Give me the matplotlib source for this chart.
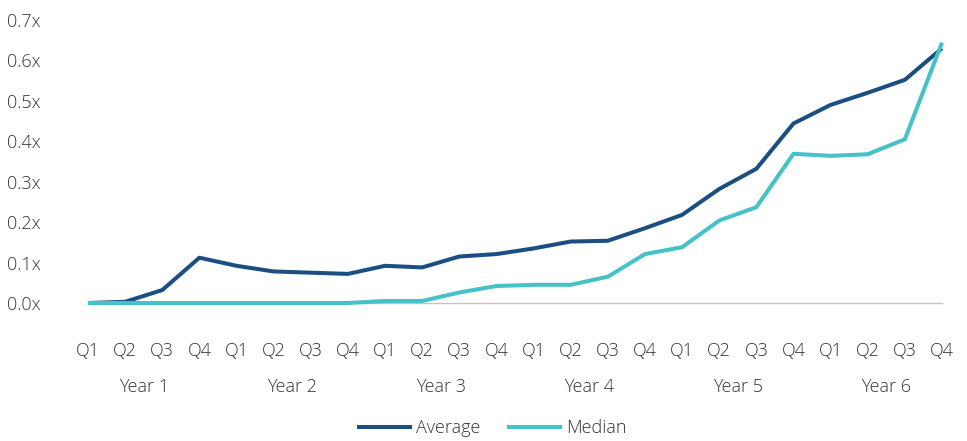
import matplotlib
matplotlib.use("Agg")
import matplotlib.pyplot as plt
from matplotlib import font_manager
import matplotlib.transforms as mtransforms

names = {f.name for f in font_manager.fontManager.ttflist}
fam = [n for n in ["Liberation Sans Narrow", "Open Sans", "DejaVu Sans"] if n in names]
plt.rcParams['font.family'] = fam
plt.rcParams['font.weight'] = 300

quarters = ["Q1", "Q2", "Q3", "Q4"] * 6
years = ["Year 1", "Year 2", "Year 3", "Year 4", "Year 5", "Year 6"]
average = [0.0, 0.003, 0.032, 0.112, 0.092, 0.078, 0.075, 0.072, 0.092, 0.088, 0.115, 0.121,
           0.135, 0.152, 0.154, 0.185, 0.218, 0.282, 0.332, 0.444, 0.490, 0.520, 0.552, 0.630]
median = [0.0, 0.0, 0.0, 0.0, 0.0, 0.0, 0.0, 0.0, 0.005, 0.005, 0.026, 0.042,
          0.045, 0.045, 0.065, 0.121, 0.138, 0.204, 0.237, 0.369, 0.364, 0.368, 0.405, 0.644]
yticks = [0.0, 0.1, 0.2, 0.3, 0.4, 0.5, 0.6, 0.7]

txt = "#333333"
fig = plt.figure(figsize=(9.67, 4.41), dpi=100)
ax = fig.add_axes([88/967, 1 - 303/441, (942-88)/967, (303-20)/441])
x = list(range(len(quarters)))
ax.plot(x, average, color="#1b4f82", lw=2.9, label="Average", solid_capstyle="butt", clip_on=False)
ax.plot(x, median, color="#45c1c8", lw=2.9, label="Median", solid_capstyle="butt", clip_on=False)

ax.set_xlim(0, 23)
ax.set_ylim(0, 0.7)
ax.set_yticks(yticks)
ax.set_yticklabels([f"{v:.1f}x" for v in yticks], fontsize=13, color=txt)
ax.set_xticks(x)
ax.set_xticklabels(quarters, fontsize=13, color=txt)
ax.tick_params(axis="both", length=0)
ax.tick_params(axis="x", pad=28)
ax.tick_params(axis="y", pad=34)
for s in ["top", "right", "left"]:
    ax.spines[s].set_visible(False)
ax.spines["bottom"].set_color("#c8c2ba")
ax.spines["bottom"].set_linewidth(1.0)
ax.spines["bottom"].set_zorder(0)

trans = mtransforms.blended_transform_factory(ax.transData, fig.transFigure)
for i, yname in enumerate(years):
    ax.text(i * 4 + 1.5, 1 - 387/441, yname, transform=trans, ha="center", va="center",
            fontsize=13, color=txt)

leg = fig.legend(loc="center", bbox_to_anchor=(492/967, 1 - 428/441), ncol=2, frameon=False,
                 fontsize=13, handlelength=3.0, columnspacing=1.5, handletextpad=0.25)
for t in leg.get_texts():
    t.set_color(txt)

fig.savefig("out.png", dpi=100)
